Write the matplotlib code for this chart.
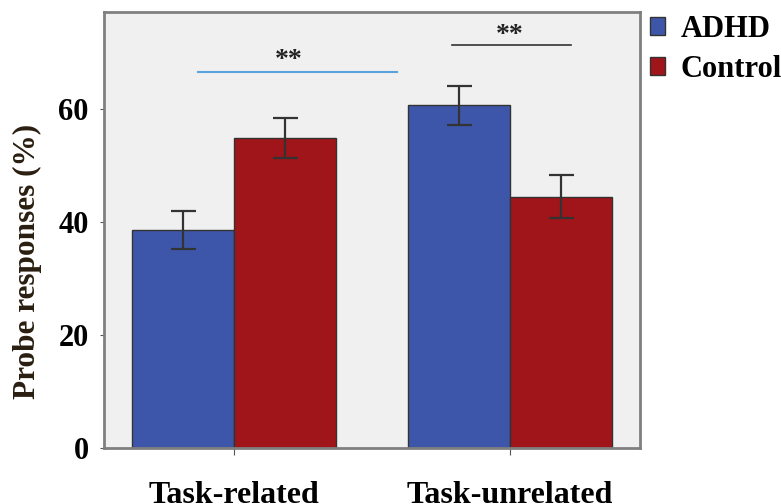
import matplotlib
matplotlib.use('Agg')
from matplotlib import pyplot as plt
import numpy as np

plt.rcParams['font.family'] = ['Liberation Serif', 'DejaVu Serif']
plt.rcParams['font.weight'] = 'bold'
plt.rcParams['axes.labelweight'] = 'bold'

categories = ['Task-related', 'Task-unrelated']
groups = ['ADHD', 'Control']
adhd_values = [38.6, 60.7]
adhd_errors = [3.4, 3.45]
control_values = [54.9, 44.5]
control_errors = [3.5, 3.8]
yticks = [0, 20, 40, 60]

colors = {'ADHD': '#3D56A9', 'Control': '#A01519'}

figure = plt.figure(figsize=(7.81, 5.04), dpi=100)
axes = figure.add_axes([104 / 781, 1 - 448 / 504, (640 - 104) / 781, (448 - 12) / 504])
axes.set_facecolor('#F0F0F0')

x = np.arange(len(categories))
width = 0.37
error_style = dict(ecolor='#333333', elinewidth=1.6, capsize=9, capthick=1.6)

axes.bar(x - width / 2, adhd_values, width, yerr=adhd_errors, color=colors['ADHD'],
         edgecolor='#333333', linewidth=1.0, label='ADHD', error_kw=error_style, zorder=2)
axes.bar(x + width / 2, control_values, width, yerr=control_errors, color=colors['Control'],
         edgecolor='#333333', linewidth=1.0, label='Control', error_kw=error_style, zorder=2)

# significance markers
axes.plot([-0.13, 0.59], [66.6, 66.6], color='#5BA3DC', linewidth=1.5)
axes.text(0.2, 68.6, '**', ha='center', va='center', fontsize=20, color='#222222')
axes.plot([0.79, 1.22], [71.3, 71.3], color='#333333', linewidth=1.2)
axes.text(1.0, 73.0, '**', ha='center', va='center', fontsize=20, color='#222222')

axes.set_xlim(-0.47, 1.47)
axes.set_ylim(0, 77.2)
axes.set_xticks(x)
axes.set_xticklabels(categories, fontsize=23)
axes.set_yticks(yticks)
axes.set_yticklabels([str(v) for v in yticks], fontsize=22)
axes.tick_params(axis='x', length=5, color='#555555', pad=19)
axes.tick_params(axis='y', length=3, color='#555555', pad=8)
axes.set_ylabel('Probe responses (%)', fontsize=22.5, color='#2A1E10')
axes.yaxis.set_label_coords(-0.116, (448 - 261) / 436)

for spine in axes.spines.values():
    spine.set_color('#808080')
    spine.set_linewidth(2)

axes.legend(loc='upper left', bbox_to_anchor=(650 / 781, 1 - 15 / 504),
            bbox_transform=figure.transFigure, frameon=False, fontsize=22,
            handlelength=0.5, handleheight=0.5, handletextpad=0.5, labelspacing=0.35,
            borderaxespad=0, borderpad=0)

plt.savefig('out.png', dpi=100)
